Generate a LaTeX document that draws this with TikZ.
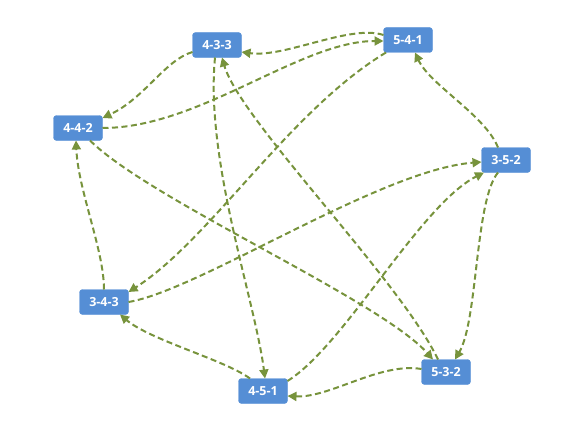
\documentclass[tikz,border=0pt]{standalone}
\usepackage{fontspec}
\setmainfont{Open Sans}
\usetikzlibrary{arrows.meta,calc}
\definecolor{boxblue}{RGB}{85,142,213}
\definecolor{edgegreen}{RGB}{119,147,60}
\tikzset{
  box/.style={rectangle, rounded corners=3pt, fill=boxblue, draw=boxblue,
    minimum width=49pt, minimum height=25pt, inner sep=0pt,
    text=white, font=\fontsize{12.5}{13}\selectfont\bfseries},
  edge/.style={draw=edgegreen, line width=2pt, dash pattern=on 6pt off 3.5pt,
    -{Triangle[length=9pt,width=9pt,fill=edgegreen]}}
}
\begin{document}
\begin{tikzpicture}[x=1pt,y=-1pt]
\useasboundingbox (0,0) rectangle (580,420);
\node[box] (n433) at (217,45) {4-3-3};
\node[box] (n541) at (408,40) {5-4-1};
\node[box] (n442) at (78,128) {4-4-2};
\node[box] (n352) at (506,160) {3-5-2};
\node[box] (n343) at (104,302) {3-4-3};
\node[box] (n451) at (263,391) {4-5-1};
\node[box] (n532) at (446,372) {5-3-2};
% 1
\draw[edge] ($(n541)+(-24.5,-5)$) .. controls (350,24) and (285,58) .. ($(n433)+(24.5,7)$);
% 2
\draw[edge] ($(n442)+(24.5,0)$) .. controls (200,128) and (300,41) .. ($(n541)+(-24.5,1)$);
% 3
\draw[edge] ($(n433)+(-24.5,7)$) .. controls (165,60) and (145,98) .. ($(n442)+(24.5,-10)$);
% 4
\draw[edge] ($(n541)+(-22,12.5)$) .. controls (290,110) and (210,240) .. ($(n343)+(24.5,-10)$);
% 5
\draw[edge] ($(n352)+(-8,-12.5)$) .. controls (485,115) and (430,85) .. ($(n541)+(7,12.5)$);
% 6
\draw[edge] ($(n343)+(24.5,0)$) .. controls (200,290) and (380,170) .. ($(n352)+(-24.5,2)$);
% 7
\draw[edge] ($(n451)+(24.5,-10)$) .. controls (345,345) and (420,205) .. ($(n352)+(-22,12.5)$);
% 8
\draw[edge] ($(n352)+(-8,12.5)$) .. controls (475,200) and (478,320) .. ($(n532)+(9,-12.5)$);
% 9
\draw[edge] ($(n442)+(12,12.5)$) .. controls (150,200) and (380,300) .. ($(n532)+(-13,-12.5)$);
% 10
\draw[edge] ($(n532)+(-24.5,-3)$) .. controls (380,362) and (330,398) .. ($(n451)+(24.5,5)$);
% 11
\draw[edge] ($(n451)+(-13,-12.5)$) .. controls (225,360) and (150,340) .. ($(n343)+(16,12.5)$);
% 12
\draw[edge] ($(n343)+(0,-12.5)$) .. controls (104,250) and (78,190) .. ($(n442)+(-2,12.5)$);
% 13
\draw[edge] ($(n433)+(-2,12.5)$) .. controls (205,160) and (255,300) .. ($(n451)+(2,-12.5)$);
% 14
\draw[edge] ($(n532)+(-8,-12.5)$) .. controls (400,280) and (240,120) .. ($(n433)+(5,12.5)$);
\end{tikzpicture}
\end{document}
